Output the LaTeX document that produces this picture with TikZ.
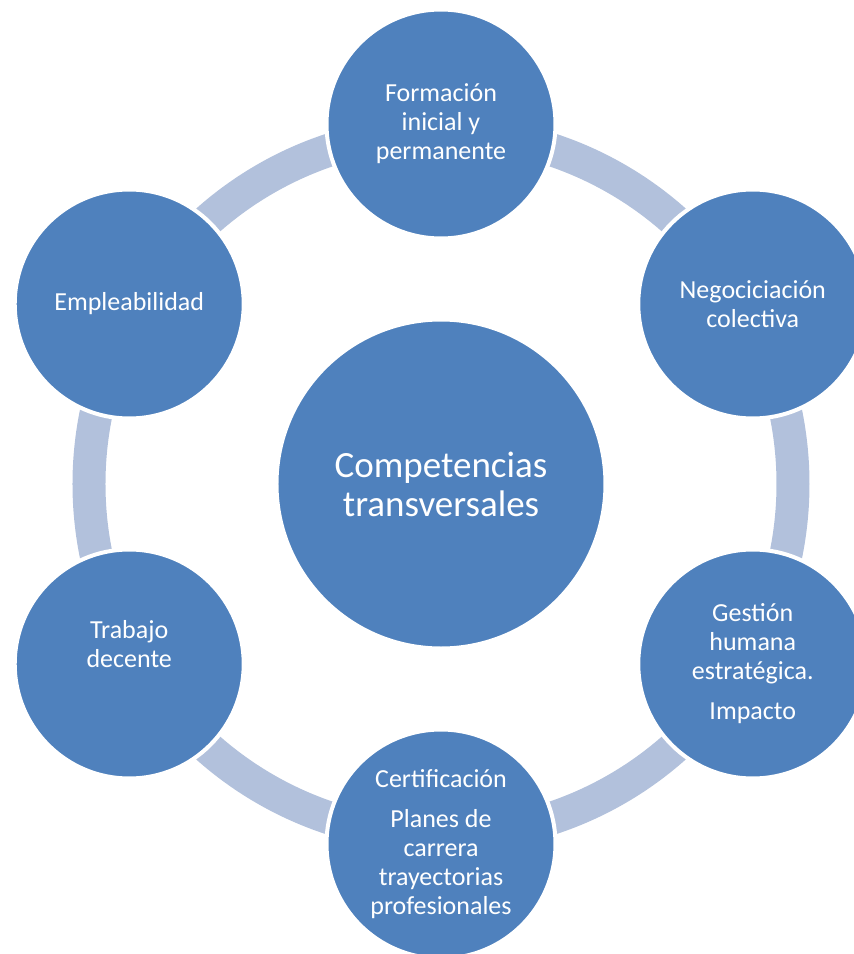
\documentclass[tikz,border=0pt]{standalone}
\usepackage{fontspec}
\setmainfont{Carlito}
\definecolor{cycleblue}{RGB}{79,129,189}
\definecolor{ringblue}{RGB}{178,193,220}

\begin{document}
\begin{tikzpicture}[x=1pt,y=1pt,
  bubble/.style={circle, fill=cycleblue, draw=white, line width=4pt,
    minimum size=229pt, inner sep=0pt, align=center, text=white,
    font=\fontsize{26}{29}\selectfont},
  hub/.style={bubble, minimum size=329pt, font=\fontsize{37}{39}\selectfont},
  ring/.style={draw=ringblue, line width=33pt}]
  \useasboundingbox (-441,-470) rectangle (413,484);
  \node[hub] (competencias) at (0,0) {Competencias\\transversales};
  \draw[ring] (competencias.center) circle[radius=352pt];
  \node[bubble] (formacion) at (90:360) {Formación\\inicial y\\permanente};
  \node[bubble] (negociacion) at (30:360) {Negociciación\\colectiva};
  \node[bubble] (gestion) at (-30:360) {Gestión\\humana\\estratégica.\\[11pt]Impacto};
  \node[bubble] (certificacion) at (-90:360) {Certificación\\[11pt]Planes de\\carrera\\trayectorias\\profesionales};
  \node[bubble] (trabajo) at (-150:360) {Trabajo\\decente\\[11pt]\mbox{}};
  \node[bubble] (empleabilidad) at (150:360) {Empleabilidad};
\end{tikzpicture}
\end{document}
